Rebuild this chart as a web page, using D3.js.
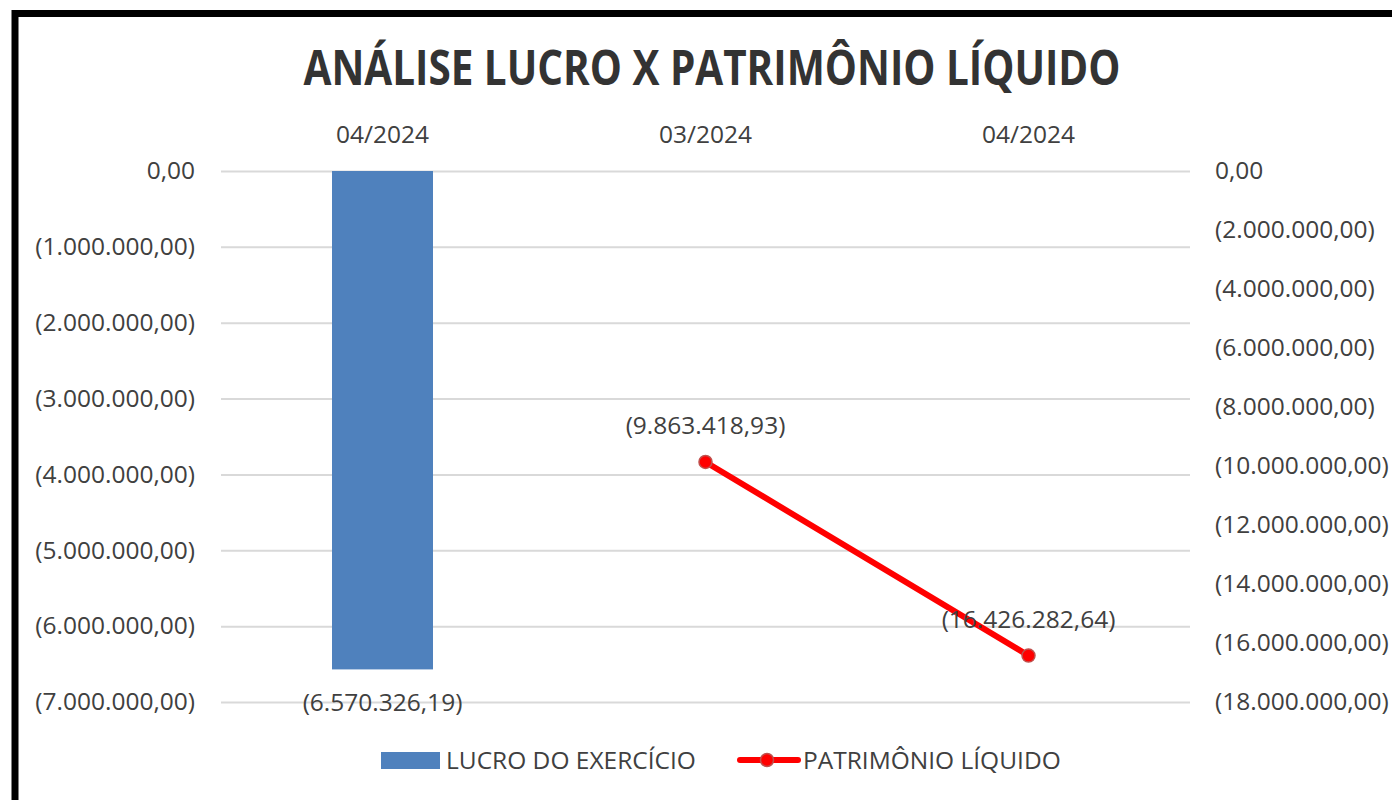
<!DOCTYPE html>
<html>
<head>
<meta charset="utf-8">
<script src="https://cdn.jsdelivr.net/npm/d3@7"></script>
<style>
  body { margin: 0; background: #fff; }
  text { font-family: "Open Sans", sans-serif; fill: #404040; }
</style>
</head>
<body>
<svg id="chart"></svg>
<script>
// data
const categories = ["04/2024", "03/2024", "04/2024"];
const lucro = [-6570326.19, null, null];
const patrimonio = [null, -9863418.93, -16426282.64];
const leftTicks = [0, -1e6, -2e6, -3e6, -4e6, -5e6, -6e6, -7e6];
const rightTicks = [0, -2e6, -4e6, -6e6, -8e6, -10e6, -12e6, -14e6, -16e6, -18e6];
const seriesNames = ["LUCRO DO EXERCÍCIO", "PATRIMÔNIO LÍQUIDO"];

const width = 1392, height = 800;
const plotLeft = 221, plotRight = 1190, plotTop = 171, plotBottom = 702;
const fontSize = '24.5px';

const svg = d3.select('#chart')
  .attr('width', width)
  .attr('height', height);

// outer frame (only left/top visible)
svg.append('rect')
  .attr('x', 15).attr('y', 13.5)
  .attr('width', 1500).attr('height', 1000)
  .attr('fill', '#fff')
  .attr('stroke', '#000')
  .attr('stroke-width', 7);

// number format pt-BR with parentheses for negatives
const locale = d3.formatLocale({ decimal: ",", thousands: ".", grouping: [3], currency: ["R$", ""] });
const fmtNum = locale.format(",.2f");
const fmt = (v) => v < 0 ? `(${fmtNum(-v)})` : fmtNum(v);

// scales
const x = d3.scaleBand()
  .domain(d3.range(categories.length))
  .range([plotLeft, plotRight]);

const yLeft = d3.scaleLinear().domain([0, -7e6]).range([plotTop, plotBottom]);
const yRight = d3.scaleLinear().domain([0, -18e6]).range([plotTop, plotBottom]);

const styleText = g => g.selectAll('text')
  .style('font-size', fontSize)
  .attr('fill', '#404040')
  .attr('font-family', 'Open Sans');

// gridlines
svg.append('g')
  .attr('transform', `translate(${plotLeft},0)`)
  .call(d3.axisLeft(yLeft).tickValues(leftTicks).tickSize(-(plotRight - plotLeft)).tickFormat(''))
  .call(g => g.select('.domain').remove())
  .call(g => g.selectAll('line').attr('stroke', '#d9d9d9').attr('stroke-width', 2));

// left axis labels
svg.append('g')
  .attr('transform', `translate(${plotLeft},0)`)
  .call(d3.axisLeft(yLeft).tickValues(leftTicks).tickSize(0).tickPadding(26).tickFormat(fmt))
  .call(g => g.select('.domain').remove())
  .call(styleText);

// right axis labels
svg.append('g')
  .attr('transform', `translate(${plotRight},0)`)
  .call(d3.axisRight(yRight).tickValues(rightTicks).tickSize(0).tickPadding(25).tickFormat(fmt))
  .call(g => g.select('.domain').remove())
  .call(styleText);

// category axis at top
svg.append('g')
  .attr('transform', `translate(0,143)`)
  .call(d3.axisTop(x).tickSize(0).tickPadding(0).tickFormat(i => categories[i]))
  .call(g => g.select('.domain').remove())
  .call(styleText);

// bars
const barW = 101;
const barData = lucro.map((v, i) => ({ i, v })).filter(d => d.v !== null);
svg.selectAll('rect.bar')
  .data(barData)
  .enter()
  .append('rect')
  .attr('class', 'bar')
  .attr('x', d => x(d.i) + x.bandwidth() / 2 - barW / 2)
  .attr('y', yLeft(0))
  .attr('width', barW)
  .attr('height', d => yLeft(d.v) - yLeft(0))
  .attr('fill', '#4f81bd');

svg.selectAll('text.barlabel')
  .data(barData)
  .enter()
  .append('text')
  .attr('class', 'barlabel')
  .attr('x', d => x(d.i) + x.bandwidth() / 2)
  .attr('y', d => yLeft(d.v) + 42)
  .attr('text-anchor', 'middle')
  .style('font-size', fontSize)
  .text(d => fmt(d.v));

// line
const lineData = patrimonio.map((v, i) => ({ i, v })).filter(d => d.v !== null);
const line = d3.line()
  .x(d => x(d.i) + x.bandwidth() / 2)
  .y(d => yRight(d.v));

svg.append('path')
  .datum(lineData)
  .attr('d', line)
  .attr('fill', 'none')
  .attr('stroke', '#ff0000')
  .attr('stroke-width', 6)
  .attr('stroke-linecap', 'round');

svg.selectAll('circle.pt')
  .data(lineData)
  .enter()
  .append('circle')
  .attr('class', 'pt')
  .attr('cx', d => x(d.i) + x.bandwidth() / 2)
  .attr('cy', d => yRight(d.v))
  .attr('r', 6.5)
  .attr('fill', '#ff0000')
  .attr('stroke', '#c0504d')
  .attr('stroke-width', 1.5);

svg.selectAll('text.ptlabel')
  .data(lineData)
  .enter()
  .append('text')
  .attr('class', 'ptlabel')
  .attr('x', d => x(d.i) + x.bandwidth() / 2)
  .attr('y', d => yRight(d.v) - 28)
  .attr('text-anchor', 'middle')
  .style('font-size', fontSize)
  .text(d => fmt(d.v));

// title
svg.append('text')
  .attr('x', 712)
  .attr('y', 85)
  .attr('text-anchor', 'middle')
  .attr('textLength', 817)
  .attr('lengthAdjust', 'spacingAndGlyphs')
  .style('font-size', '48px')
  .style('font-weight', 'bold')
  .style('fill', '#333')
  .text('ANÁLISE LUCRO X PATRIMÔNIO LÍQUIDO');

// legend
const legend = svg.append('g');
legend.append('rect')
  .attr('x', 381).attr('y', 752)
  .attr('width', 59).attr('height', 17)
  .attr('fill', '#4f81bd');
legend.append('text')
  .attr('x', 446).attr('y', 769)
  .style('font-size', fontSize)
  .text(seriesNames[0]);
legend.append('line')
  .attr('x1', 740).attr('x2', 798)
  .attr('y1', 760).attr('y2', 760)
  .attr('stroke', '#ff0000').attr('stroke-width', 6)
  .attr('stroke-linecap', 'round');
legend.append('circle')
  .attr('cx', 767).attr('cy', 760).attr('r', 6.5)
  .attr('fill', '#ff0000').attr('stroke', '#c0504d').attr('stroke-width', 1.5);
legend.append('text')
  .attr('x', 803).attr('y', 769)
  .style('font-size', fontSize)
  .text(seriesNames[1]);
</script>
</body>
</html>
